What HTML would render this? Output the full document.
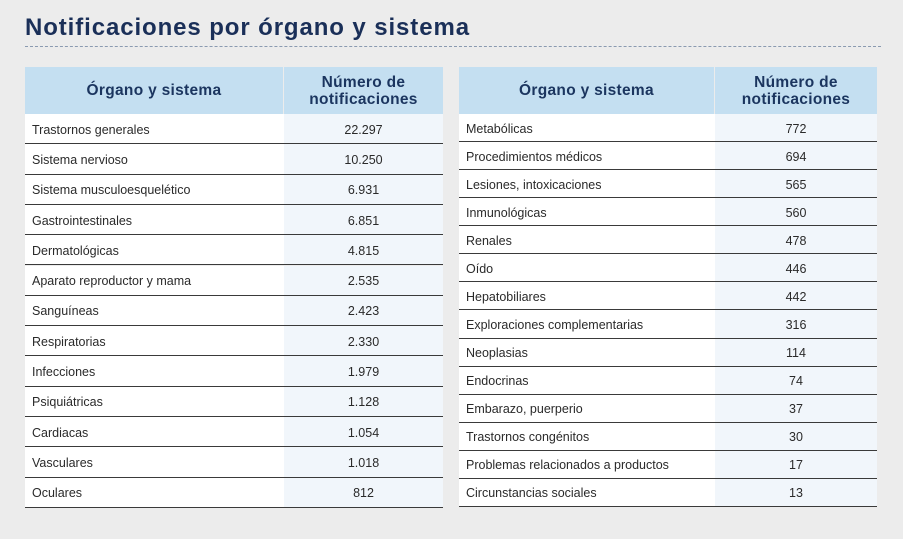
<!DOCTYPE html>
<html><head><meta charset="utf-8"><style>
body{margin:0;width:903px;height:539px;background:#ececec;font-family:"Liberation Sans",sans-serif;position:relative;overflow:hidden}
.t{position:absolute;left:25px;top:14px;font-size:24px;font-weight:bold;color:#1a2f58;letter-spacing:0.9px}
.d{position:absolute;left:25px;top:46px;width:856px;border-top:1.5px dashed #8a9ab0}
.tb{position:absolute;top:67px}
.h{position:absolute;top:0;height:47px;background:#c4dff1;color:#1b355f;font-weight:bold;font-size:15.5px;display:flex;align-items:center;justify-content:center;text-align:center;line-height:17px;letter-spacing:0.3px}
.r{position:absolute;left:0;display:flex;border-bottom:1.5px solid #3a3a3a;font-size:12.5px;color:#2a2a2a;box-sizing:border-box}
.r .a{background:#fff;padding-left:7px;display:flex;align-items:center;box-sizing:border-box;padding-top:2px}
.r .b{background:#f1f6fb;display:flex;align-items:center;justify-content:center;padding-top:2px}
</style></head><body>
<div class="t">Notificaciones por órgano y sistema</div>
<div class="d"></div>
<div class="tb" id="L" style="left:25px;width:418px"></div>
<div class="tb" id="R" style="left:459px;width:418px"></div>
<script>
function build(id,split,rows,rh){
 var el=document.getElementById(id),w=418,h='';
 h+='<div class="h" style="left:0;width:'+(split-1)+'px">Órgano y sistema</div>';
 h+='<div class="h" style="left:'+split+'px;width:'+(w-split)+'px">Número de<br>notificaciones</div>';
 rows.forEach(function(r,i){
  h+='<div class="r" style="top:'+(47+i*rh)+'px;height:'+rh+'px;width:'+w+'px"><div class="a" style="width:'+split+'px">'+r[0]+'</div><div class="b" style="width:'+(w-split)+'px">'+r[1]+'</div></div>';
 });
 el.innerHTML=h;
}
build('L',259,[["Trastornos generales","22.297"],["Sistema nervioso","10.250"],["Sistema musculoesquelético","6.931"],["Gastrointestinales","6.851"],["Dermatológicas","4.815"],["Aparato reproductor y mama","2.535"],["Sanguíneas","2.423"],["Respiratorias","2.330"],["Infecciones","1.979"],["Psiquiátricas","1.128"],["Cardiacas","1.054"],["Vasculares","1.018"],["Oculares","812"]],30.3);
build('R',256,[["Metabólicas","772"],["Procedimientos médicos","694"],["Lesiones, intoxicaciones","565"],["Inmunológicas","560"],["Renales","478"],["Oído","446"],["Hepatobiliares","442"],["Exploraciones complementarias","316"],["Neoplasias","114"],["Endocrinas","74"],["Embarazo, puerperio","37"],["Trastornos congénitos","30"],["Problemas relacionados a productos","17"],["Circunstancias sociales","13"]],28.07);
</script>
</body></html>
